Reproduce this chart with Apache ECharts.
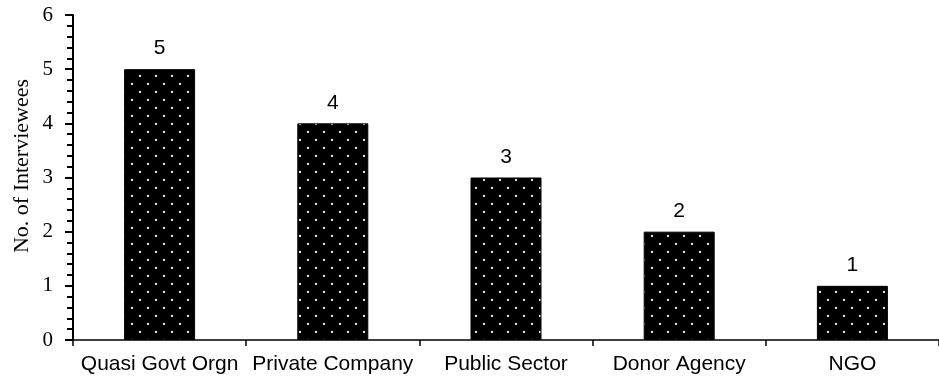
<!DOCTYPE html>
<html>
<head>
<meta charset="utf-8">
<script src="https://cdn.jsdelivr.net/npm/echarts@6/dist/echarts.min.js"></script>
<style>html,body{margin:0;padding:0;background:#fff;}#c{width:939px;height:381px;}</style>
</head>
<body>
<div id="c"></div>
<script>
const categories = ['Quasi Govt Orgn', 'Private Company', 'Public Sector', 'Donor Agency', 'NGO'];
const values = [5, 4, 3, 2, 1];
const yTitle = 'No. of Interviewees';

// dotted pattern
const pc = document.createElement('canvas');
pc.width = 16; pc.height = 16;
const g = pc.getContext('2d');
g.fillStyle = '#000'; g.fillRect(0, 0, 16, 16);
g.fillStyle = '#f0f0f0';
g.beginPath(); g.arc(4, 4, 1.15, 0, Math.PI * 2); g.fill();
g.beginPath(); g.arc(12, 12, 1.15, 0, Math.PI * 2); g.fill();

const chart = echarts.init(document.getElementById('c'), null, {renderer: 'canvas'});
chart.setOption({
  animation: false,
  grid: {left: 73, top: 15, width: 873, bottom: 41, containLabel: false},
  xAxis: {
    type: 'category',
    data: categories,
    axisLine: {lineStyle: {color: '#000', width: 1.5}},
    axisTick: {show: true, length: 6, interval: 0, lineStyle: {color: '#000', width: 1.5}},
    axisLabel: {interval: 0, margin: 14, color: '#000', fontFamily: 'Liberation Sans', fontSize: 21}
  },
  yAxis: {
    type: 'value', min: 0, max: 6, interval: 1,
    axisLine: {show: true, lineStyle: {color: '#000', width: 2}},
    axisTick: {show: true, length: 8, lineStyle: {color: '#000', width: 2}},
    minorTick: {show: true, splitNumber: 5, length: 6, lineStyle: {color: '#000', width: 2}},
    splitLine: {show: false},
    axisLabel: {margin: 20, color: '#000', fontFamily: 'Liberation Serif', fontSize: 21}
  },
  graphic: [{
    type: 'text', x: 22, y: 166, rotation: Math.PI / 2,
    style: {text: yTitle, fill: '#000', font: '22px "Liberation Serif"', textAlign: 'center', textVerticalAlign: 'middle'}
  }],
  series: [{
    type: 'bar',
    data: values,
    barWidth: 71,
    itemStyle: {color: {image: pc, repeat: 'repeat'}, borderColor: '#000', borderWidth: 1},
    label: {show: true, position: 'top', distance: 10, color: '#000', fontFamily: 'Liberation Sans', fontSize: 21}
  }]
});
</script>
</body>
</html>
